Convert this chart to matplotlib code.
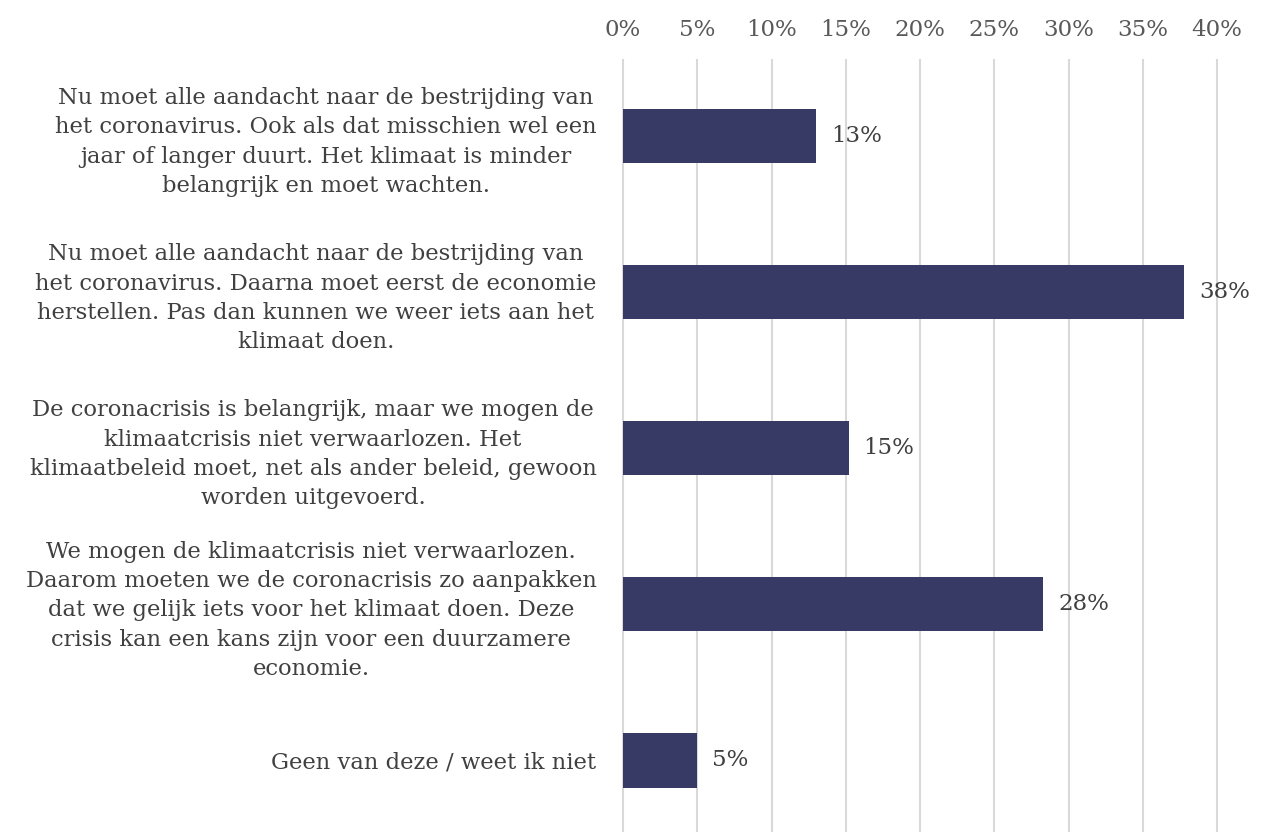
import matplotlib
matplotlib.use("Agg")
import matplotlib.pyplot as plt
from matplotlib.ticker import MultipleLocator, FuncFormatter

categories = [
    "Nu moet alle aandacht naar de bestrijding van\nhet coronavirus. Ook als dat misschien wel een\njaar of langer duurt. Het klimaat is minder\nbelangrijk en moet wachten.",
    "Nu moet alle aandacht naar de bestrijding van\nhet coronavirus. Daarna moet eerst de economie\nherstellen. Pas dan kunnen we weer iets aan het\nklimaat doen.",
    "De coronacrisis is belangrijk, maar we mogen de\nklimaatcrisis niet verwaarlozen. Het\nklimaatbeleid moet, net als ander beleid, gewoon\nworden uitgevoerd.",
    "We mogen de klimaatcrisis niet verwaarlozen.\nDaarom moeten we de coronacrisis zo aanpakken\ndat we gelijk iets voor het klimaat doen. Deze\ncrisis kan een kans zijn voor een duurzamere\neconomie.",
    "Geen van deze / weet ik niet",
]
values = [13.0, 37.8, 15.2, 28.3, 5.0]

plt.rcParams['font.family'] = ['DejaVu Serif']

fig = plt.figure(figsize=(12.66, 8.32), dpi=100)
ax = fig.add_axes([623/1266, 0, (1217-623)/1266, 1 - 60/832])

ypos = list(range(len(categories)))
ax.barh(ypos, values, height=0.35, color='#373A64', zorder=3)
for y, v in zip(ypos, values):
    ax.text(v + 1.0, y, f"{v:.0f}%", va='center', ha='left', fontsize=16.5, color='#404040')

ax.set_xlim(0, 40)
ax.set_ylim(4.46, -0.487)
ax.xaxis.set_major_locator(MultipleLocator(5))
ax.xaxis.set_major_formatter(FuncFormatter(lambda x, p: f"{x:.0f}%"))
ax.xaxis.tick_top()
ax.tick_params(axis='x', length=0, pad=14, labelsize=16.5, labelcolor='#595959')
ax.grid(axis='x', color='#D9D9D9', linewidth=1.5, zorder=0)
for gl in ax.get_xgridlines():
    gl.set_clip_on(False)

ax.set_yticks(ypos)
ax.set_yticklabels(categories, fontsize=16.3, color='#404040', multialignment='center', linespacing=1.43)
ax.tick_params(axis='y', length=0, pad=19)

for s in ax.spines.values():
    s.set_visible(False)

fig.savefig("out.png", dpi=100)
